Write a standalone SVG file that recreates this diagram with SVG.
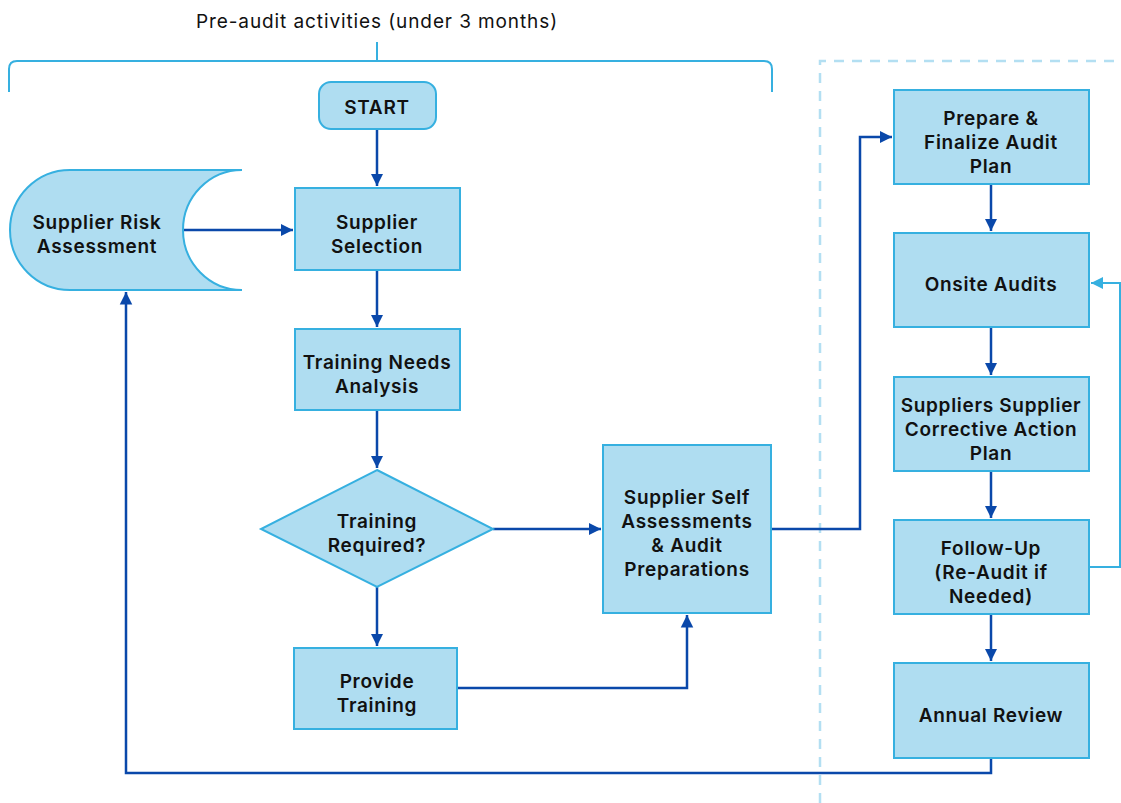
<svg xmlns="http://www.w3.org/2000/svg" width="1121" height="803" viewBox="0 0 1121 803">
<defs>
<style>
.n{fill:#afddf1;stroke:#36b0e0;stroke-width:2}
.t{font-family:Inter,"Liberation Sans",sans-serif;font-weight:600;font-size:19px;letter-spacing:0.7px;fill:#111;text-anchor:middle}
.c{fill:none;stroke:#0a48aa;stroke-width:2.5}
.lc{fill:none;stroke:#36b0e0;stroke-width:2}
</style>
<marker id="a" viewBox="0 0 10 10" refX="10" refY="5" markerWidth="5" markerHeight="5.4" orient="auto" markerUnits="strokeWidth"><path d="M0,0 L10,5 L0,10 z" fill="#0a48aa"/></marker>
<marker id="b" viewBox="0 0 10 10" refX="10" refY="5" markerWidth="6" markerHeight="6" orient="auto" markerUnits="strokeWidth"><path d="M0,0 L10,5 L0,10 z" fill="#36b0e0"/></marker>
</defs>
<rect width="1121" height="803" fill="#fff"/>
<g id="bracket">
<text x="377" y="28" font-family="Inter,'Liberation Sans',sans-serif" font-size="19" letter-spacing="0.9" fill="#111" text-anchor="middle">Pre-audit activities (under 3 months)</text>
<path d="M9,92 V69 Q9,61 17,61 H764 Q772,61 772,69 V92" fill="none" stroke="#36b0e0" stroke-width="2"/>
<path d="M377,42 V61" fill="none" stroke="#36b0e0" stroke-width="2"/>
</g>
<g id="phase-divider">
<path d="M820,803 V61 H1121" fill="none" stroke="#b3dff2" stroke-width="2.5" stroke-dasharray="10,8"/>
</g>
<g id="connectors">
<path class="c" d="M377,129 V186" marker-end="url(#a)"/>
<path class="c" d="M377,270 V327" marker-end="url(#a)"/>
<path class="c" d="M377,410 V468" marker-end="url(#a)"/>
<path class="c" d="M377,587 V646" marker-end="url(#a)"/>
<path class="c" d="M493,529 H601" marker-end="url(#a)"/>
<path class="c" d="M457,688 H687 V615" marker-end="url(#a)"/>
<path class="c" d="M771,529 H860 V137 H892" marker-end="url(#a)"/>
<path class="c" d="M184,230 H293" marker-end="url(#a)"/>
<path class="c" d="M991,184 V231" marker-end="url(#a)"/>
<path class="c" d="M991,327 V375" marker-end="url(#a)"/>
<path class="c" d="M991,471 V518" marker-end="url(#a)"/>
<path class="c" d="M991,614 V661" marker-end="url(#a)"/>
<path class="c" d="M991,758 V773 H126 V292" marker-end="url(#a)"/>
<path class="lc" d="M1089,567 H1120 V283 H1091" marker-end="url(#b)"/>
</g>
<g id="start">
<rect class="n" x="319" y="82" width="117" height="47" rx="12"/>
<text class="t" x="377" y="114">START</text>
</g>
<g id="supplier-risk">
<path class="n" d="M242,170 H70 A60,60 0 0 0 70,290 H242 A59,60 0 0 1 242,170 Z"/>
<text class="t" x="97" y="229">Supplier Risk</text>
<text class="t" x="97" y="253">Assessment</text>
</g>
<g id="supplier-selection">
<rect class="n" x="295" y="188" width="165" height="82"/>
<text class="t" x="377" y="229">Supplier</text>
<text class="t" x="377" y="253">Selection</text>
</g>
<g id="training-needs">
<rect class="n" x="295" y="329" width="165" height="81"/>
<text class="t" x="377" y="369">Training Needs</text>
<text class="t" x="377" y="393">Analysis</text>
</g>
<g id="training-required">
<path class="n" d="M377,470 L493,529 L377,587 L261,529 Z"/>
<text class="t" x="377" y="528">Training</text>
<text class="t" x="377" y="552">Required?</text>
</g>
<g id="provide-training">
<rect class="n" x="294" y="648" width="163" height="81"/>
<text class="t" x="377" y="688">Provide</text>
<text class="t" x="377" y="712">Training</text>
</g>
<g id="self-assessments">
<rect class="n" x="603" y="445" width="168" height="168"/>
<text class="t" x="687" y="504">Supplier Self</text>
<text class="t" x="687" y="528">Assessments</text>
<text class="t" x="687" y="552">&amp; Audit</text>
<text class="t" x="687" y="576">Preparations</text>
</g>
<g id="prepare-plan">
<rect class="n" x="894" y="90" width="195" height="94"/>
<text class="t" x="991" y="125">Prepare &amp;</text>
<text class="t" x="991" y="149">Finalize Audit</text>
<text class="t" x="991" y="173">Plan</text>
</g>
<g id="onsite-audits">
<rect class="n" x="894" y="233" width="195" height="94"/>
<text class="t" x="991" y="291">Onsite Audits</text>
</g>
<g id="corrective-action">
<rect class="n" x="894" y="377" width="195" height="94"/>
<text class="t" x="991" y="412">Suppliers Supplier</text>
<text class="t" x="991" y="436">Corrective Action</text>
<text class="t" x="991" y="460">Plan</text>
</g>
<g id="follow-up">
<rect class="n" x="894" y="520" width="195" height="94"/>
<text class="t" x="991" y="555">Follow-Up</text>
<text class="t" x="991" y="579">(Re-Audit if</text>
<text class="t" x="991" y="603">Needed)</text>
</g>
<g id="annual-review">
<rect class="n" x="894" y="663" width="195" height="95"/>
<text class="t" x="991" y="722">Annual Review</text>
</g>
</svg>
